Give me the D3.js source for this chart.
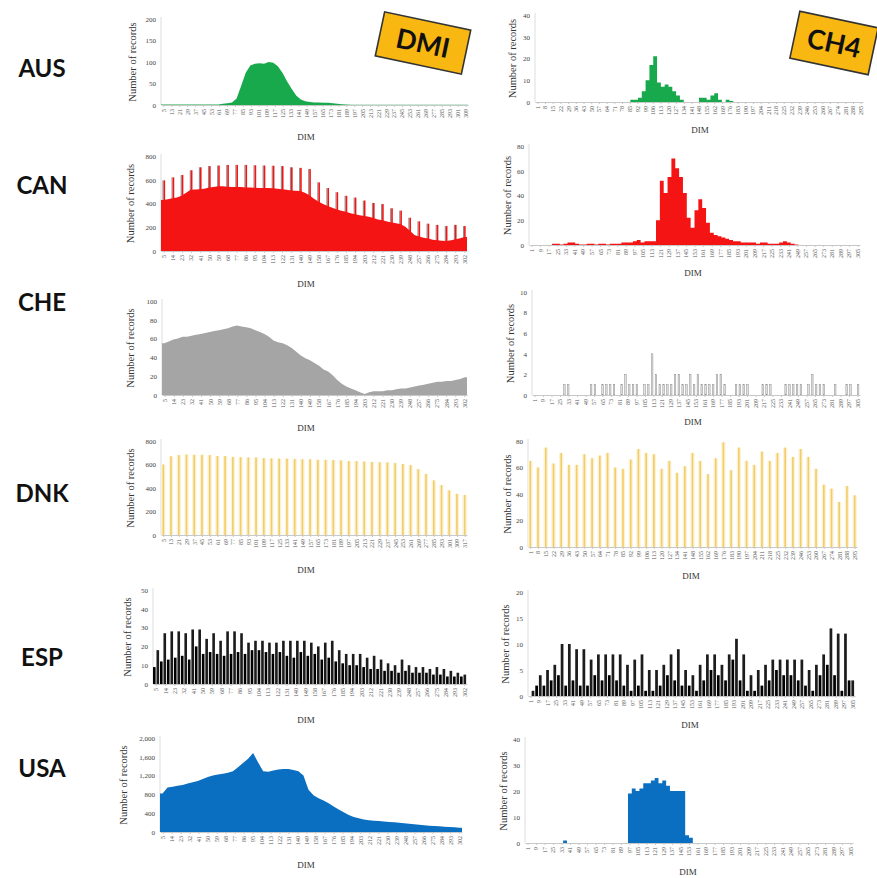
<!DOCTYPE html>
<html>
<head>
<meta charset="utf-8">
<script src="https://cdn.jsdelivr.net/npm/d3@7"></script>
<style>
  body { margin: 0; background: #fff; }
  svg { display: block; }
</style>
</head>
<body>
<script>
// Row and trait labels
const countries = ["AUS", "CAN", "CHE", "DNK", "ESP", "USA"];
const traits = ["DMI", "CH4"];

// DIM tick labels
const dmiTicks8 = [5,13,21,29,37,45,53,61,69,77,85,93,101,109,117,125,133,141,149,157,165,173,181,189,197,205,213,221,229,237,245,253,261,269,277,285,293,301,309];
const dmiTicks9 = [5,14,23,32,41,50,59,68,77,86,95,104,113,122,131,140,149,158,167,176,185,194,203,212,221,230,239,248,257,266,275,284,293,302];
const dnkTicks = [5,13,21,29,37,45,53,61,69,77,85,93,101,109,117,125,133,141,149,157,165,173,181,189,197,205,213,221,229,237,245,253,261,269,277,285,293,301,309,317];
const ch4Ticks7 = [1,8,15,22,29,36,43,50,57,64,71,78,85,92,99,106,113,120,127,134,141,148,155,162,169,176,183,190,197,204,211,218,225,232,239,246,253,260,267,274,281,288,295];
const ch4Ticks8 = [1,9,17,25,33,41,49,57,65,73,81,89,97,105,113,121,129,137,145,153,161,169,177,185,193,201,209,217,225,233,241,249,257,265,273,281,289,297,305];

// y tick values
const ausDmiY = [0, 50, 100, 150, 200];
const canDmiY = [0, 200, 400, 600, 800];
const cheDmiY = [0, 20, 40, 60, 80, 100];
const dnkDmiY = [0, 200, 400, 600, 800];
const espDmiY = [0, 10, 20, 30, 40, 50];
const usaDmiY = [0, 400, 800, 1200, 1600, 2000];
const ausCh4Y = [0, 10, 20, 30, 40];
const canCh4Y = [0, 20, 40, 60, 80];
const cheCh4Y = [0, 2, 4, 6, 8, 10];
const dnkCh4Y = [0, 20, 40, 60, 80];
const espCh4Y = [0, 5, 10, 15, 20];
const usaCh4Y = [0, 10, 20, 30, 40];

// Number of records
const ausDmi = [1,1,1,1,1,1,1,1,1,1,1,1,1,
  3,4,6,15,45,75,92,96,97,96,100,98,90,75,55,38,22,13,9,7,6,6,5,5,4,3,2,1,
  0.5,0.5,0.5,0.5,0.5,0.5,0.5,0.5,0.5,0.5,0.5,0.5,0.5,0.5,0.5,0.5,0.5,0.5,0.5,0.5,0.5,0.5,0.5,0.5,0.5,0.5];
const ausCh4 = [0,0,0,0,0,0,0,0,0,0,0,0,0,0,0,0,0,0,0,0,0,0,0,0,0,
  1,1,2,5,10,17,21,9,7,8,7,5,3,1,0,0,0,0,2,2,1,3,4,1,0,1,0.5,
  0,0,0,0,0,0,0,0,0,0,0,0,0,0,0,0,0,0,0,0,0,0,0,0,0,0,0,0,0,0,0,0,0,0];
const canDmiBase = [430,435,445,450,465,490,515,518,520,525,
  535,540,545,545,542,540,540,538,535,535,
  533,530,530,530,528,525,520,515,510,508,
  505,490,470,440,415,395,380,365,350,340,
  330,318,310,302,295,288,278,265,258,248,
  240,233,225,205,170,135,122,112,105,95,
  90,87,85,90,100,108,118];
const canDmiPeak = [595,620,640,680,705,715,720,725,725,725,
  722,720,718,715,705,700,690,578,530,495,
  465,450,425,405,395,360,340,280,250,230,
  220,210,220,210];
const canCh4 = [0,0,0,0,0,0,1,1,0.5,1, 2,2,1,0.5,0.5,1,1,0.5,1,1,
  0.5,1,1,1,2,2,2,3,4,2, 3,3,3,20,52,42,55,70,62,55,
  42,22,14,28,37,30,18,10,8,7, 6,5,4,3,3,2,2,2,2,1,
  2,2,1,1,1,2,3,2,1,0.5, 0,0,0,0,0,0,0,0,0,0, 0,0,0,0,0,0];
const cheDmi = [55,57,59,60,62,62,63,64,65,66,
  67,68,69,70,71,73,74,73,72,71,
  69,67,65,62,58,56,55,53,50,46,
  42,39,37,34,31,27,25,21,16,12,
  9,7,5,3,1,3,4,4,4,5,
  5,6,7,7,8,9,10,11,12,13,
  14,14,15,15,16,17,19];
const cheCh4 = [0,0,0,0,0,0,0,0,1,1, 0,0,0,0,0,1,1,0,1,1,
  1,1,0,1,2,1,1,1,0,1, 1,4,2,1,1,1,1,2,2,1,
  1,2,1,2,1,1,1,1,2,2, 1,0,0,1,1,1,1,0,0,0,
  1,1,1,0,0,0,1,1,1,1, 1,0,1,2,1,1,1,0,0,1,
  0,0,1,1,0,1];
const dnkDmi = [600,670,680,685,683,683,680,672,672,665,
  662,660,660,655,652,650,650,648,645,645,
  640,640,638,635,630,628,625,622,620,618,
  612,605,595,560,520,465,425,380,350,340];
const dnkCh4 = [65,60,75,63,71,62,62,70,67,69,
  71,60,59,66,74,71,70,59,65,56,
  61,71,65,55,67,79,58,75,65,62,
  72,65,71,75,68,74,68,59,47,44,
  34,46,39];
const espDmi = [9,18,12,27,13,28,14,28,15,27, 13,29,20,29,16,24,17,27,16,23,
  15,28,16,28,17,27,16,22,18,23, 18,23,17,22,16,22,17,23,15,23,
  14,23,17,23,15,22,16,20,13,22, 14,23,12,18,11,16,10,16,10,16,
  9,14,8,15,8,13,7,11,7,10, 6,13,7,10,6,9,6,9,6,8,
  5,9,5,8,4,7,4,6,4,5];
const espCh4 = [0,1,2,4,2,5,3,6,4,10, 2,10,3,9,2,9,2,7,4,8,
  3,8,4,8,3,8,2,6,1,7, 2,8,1,5,1,5,2,6,4,8,
  3,9,2,5,2,4,1,6,3,8, 5,8,4,6,3,8,7,11,3,8,
  1,4,1,5,2,6,3,7,5,7, 4,7,4,7,3,7,2,5,1,6,
  4,8,6,13,4,12,1,12,3,3];
const usaDmi = [820,945,965,985,1000,1030,1060,1085,1130,1170,
  1200,1225,1240,1260,1290,1380,1470,1560,1680,1480,
  1290,1280,1310,1330,1340,1340,1320,1290,1200,900,
  780,720,670,610,540,480,420,360,320,290,
  265,250,240,232,225,215,205,195,185,175,
  165,155,145,135,128,120,113,107,100,93];
const usaCh4 = [0,0,0,0,0,0,0,0,0,0, 1,
  0,0,0,0,0,0,0,0,0,0,0,0,0,0,0,0,
  19,21,20,21,23,23,24,25,23,24,22,20,20,20,20,3,2,
  0,0,0,0,0,0,0,0,0,0,0,0,0,0,0,0,0,0,0,0,0,0,0,0,0,0,0,0,0,0,0,0,0,0,0,0,0,0,0,0,0,0];

const W = 877, H = 878;
const serif = "'Liberation Serif', 'DejaVu Serif', serif";
const svg = d3.select("body").append("svg").attr("width", W).attr("height", H);

const panels = [
  {values: ausDmi, ticks: dmiTicks8, yTicks: ausDmiY, kind: "area", color: "#17a94b",
   x0: 161, x1: 468, top: 19, base: 105, dimX: 306, dimY: 137, titleX: 132},
  {values: ausCh4, ticks: ch4Ticks7, yTicks: ausCh4Y, kind: "step", color: "#17a94b",
   x0: 535, x1: 863, top: 15, base: 102, dimX: 700, dimY: 130, titleX: 512},
  {values: canDmiBase, peaks: canDmiPeak, ticks: dmiTicks9, yTicks: canDmiY, kind: "area", color: "#f41414",
   x0: 161, x1: 467, top: 156, base: 251, dimX: 306, dimY: 284, titleX: 130},
  {values: canCh4, ticks: ch4Ticks8, yTicks: canCh4Y, kind: "step", color: "#f41414",
   x0: 529, x1: 860, top: 146, base: 245, dimX: 693, dimY: 273, titleX: 507},
  {values: cheDmi, ticks: dmiTicks9, yTicks: cheDmiY, kind: "area", color: "#a5a5a5",
   x0: 162, x1: 467, top: 301, base: 395, dimX: 306, dimY: 428, titleX: 130},
  {values: cheCh4, ticks: ch4Ticks8, yTicks: cheCh4Y, kind: "thin", color: "#8c8c8c",
   x0: 532, x1: 860, top: 292, base: 395, dimX: 693, dimY: 422, titleX: 510},
  {values: dnkDmi, ticks: dnkTicks, yTicks: dnkDmiY, kind: "ticks", color: "#f1cd66",
   x0: 161, x1: 467, top: 441, base: 535, dimX: 306, dimY: 570, titleX: 130},
  {values: dnkCh4, ticks: ch4Ticks7, yTicks: dnkCh4Y, kind: "ticks", color: "#f1cd66",
   x0: 528, x1: 857, top: 441, base: 547, dimX: 691, dimY: 576, titleX: 507},
  {values: espDmi, ticks: dmiTicks9, yTicks: espDmiY, kind: "bars", color: "#000",
   x0: 153, x1: 467, top: 590, base: 684, dimX: 306, dimY: 720, titleX: 127},
  {values: espCh4, ticks: ch4Ticks8, yTicks: espCh4Y, kind: "bars", color: "#000",
   x0: 528, x1: 855, top: 592, base: 696, dimX: 690, dimY: 725, titleX: 505},
  {values: usaDmi, ticks: dmiTicks9, yTicks: usaDmiY, kind: "area", color: "#0b6fc1", fmt: d3.format(","),
   x0: 160, x1: 462, top: 738, base: 832, dimX: 306, dimY: 865, titleX: 123},
  {values: usaCh4, ticks: ch4Ticks8, yTicks: usaCh4Y, kind: "step", color: "#0b6fc1",
   x0: 525, x1: 853, top: 739, base: 843, dimX: 688, dimY: 872, titleX: 503}
];

function drawPanel(p) {
  const g = svg.append("g");
  const yMax = p.yTicks[p.yTicks.length - 1];
  const y = d3.scaleLinear().domain([0, yMax]).range([p.base, p.top]);
  const xb = d3.scaleBand().domain(d3.range(p.values.length)).range([p.x0, p.x1]);
  const xt = d3.scalePoint().domain(p.ticks).range([p.x0, p.x1]).padding(0.3);
  const bw = xb.bandwidth();

  // y axis line
  g.append("line")
    .attr("x1", p.x0).attr("x2", p.x0)
    .attr("y1", p.top - 2).attr("y2", p.base)
    .attr("stroke", "#d4d4d4").attr("stroke-width", 0.8);

  // marks
  if (p.peaks) {
    p.peaks.forEach((v, i) => {
      const xp = xt(p.ticks[i]);
      g.append("rect").attr("x", xp - 1.3).attr("width", 1.1)
        .attr("y", y(v)).attr("height", p.base - y(v)).attr("fill", "#8f8f8f");
      g.append("rect").attr("x", xp - 0.2).attr("width", 1.6)
        .attr("y", y(v)).attr("height", p.base - y(v)).attr("fill", p.color);
    });
  }

  if (p.kind === "area") {
    const pts = p.values.map((v, i) => [xb(i) + bw / 2, v]);
    pts.unshift([p.x0, p.values[0]]);
    pts.push([p.x1, p.values[p.values.length - 1]]);
    g.append("path").datum(pts)
      .attr("fill", p.color)
      .attr("d", d3.area().x(d => d[0]).y0(p.base).y1(d => y(d[1])));
  } else if (p.kind === "step") {
    const pts = p.values.map((v, i) => [xb(i), v]);
    pts.push([p.x1, p.values[p.values.length - 1]]);
    g.append("path").datum(pts)
      .attr("fill", p.color)
      .attr("d", d3.area().curve(d3.curveStepAfter).x(d => d[0]).y0(p.base).y1(d => y(d[1])));
  } else if (p.kind === "ticks") {
    g.selectAll("rect.halo").data(p.values).join("rect")
      .attr("x", (d, i) => xt(p.ticks[i]) - 2.2).attr("width", 4.4)
      .attr("y", d => y(d)).attr("height", d => p.base - y(d))
      .attr("fill", "#fcf2d6");
    g.selectAll("rect.bar").data(p.values).join("rect")
      .attr("x", (d, i) => xt(p.ticks[i]) - 0.8).attr("width", 1.6)
      .attr("y", d => y(d)).attr("height", d => p.base - y(d))
      .attr("fill", p.color);
  } else if (p.kind === "bars") {
    g.selectAll("rect").data(p.values).join("rect")
      .attr("x", (d, i) => xb(i)).attr("width", bw * 0.75)
      .attr("y", d => y(d)).attr("height", d => p.base - y(d))
      .attr("fill", (d, i) => i % 2 ? "#1c1c1c" : "#000");
  } else if (p.kind === "thin") {
    g.selectAll("rect").data(p.values.map((v, i) => [i, v]).filter(d => d[1] > 0)).join("rect")
      .attr("x", d => xb(d[0]) + bw * 0.3).attr("width", bw * 0.4)
      .attr("y", d => y(d[1])).attr("height", d => p.base - y(d[1]))
      .attr("fill", "#e2e2e2").attr("stroke", p.color).attr("stroke-width", 0.5);
  }

  // x axis
  g.append("g").attr("transform", `translate(0,${p.base})`)
    .call(d3.axisBottom(xt).tickSize(2).tickSizeOuter(0))
    .call(a => a.select(".domain").attr("stroke", "#c8c8c8"))
    .call(a => a.selectAll(".tick line").attr("stroke", "#c8c8c8"))
    .call(a => a.selectAll(".tick text")
      .attr("transform", "rotate(-90)")
      .attr("x", -4).attr("y", 0).attr("dy", "0.32em")
      .style("text-anchor", "end")
      .attr("fill", "#555")
      .attr("font-family", serif).attr("font-size", 6));

  // y axis labels
  g.append("g").attr("transform", `translate(${p.x0},0)`)
    .call(d3.axisLeft(y).tickValues(p.yTicks).tickSize(0).tickPadding(5).tickFormat(p.fmt || d3.format("d")))
    .call(a => a.select(".domain").remove())
    .call(a => a.selectAll(".tick text")
      .attr("fill", "#444").attr("font-family", serif).attr("font-size", 7));

  // titles
  g.append("text")
    .attr("transform", `translate(${p.titleX},${(p.top + p.base) / 2}) rotate(-90)`)
    .attr("dy", "0.35em").attr("text-anchor", "middle")
    .attr("font-family", serif).attr("font-size", 10.5).attr("fill", "#333")
    .text("Number of records");
  g.append("text")
    .attr("x", p.dimX).attr("y", p.dimY)
    .attr("text-anchor", "middle").attr("dy", "0.35em")
    .attr("font-family", serif).attr("font-size", 9).attr("fill", "#333")
    .text("DIM");
}

panels.forEach(drawPanel);

// row labels
const rowY = [68, 185, 302, 493, 657, 768];
svg.selectAll("text.country").data(countries).join("text")
  .attr("class", "country")
  .attr("x", 42).attr("y", (d, i) => rowY[i])
  .attr("dy", "0.36em").attr("text-anchor", "middle")
  .attr("font-family", "Lato, 'Open Sans', sans-serif")
  .attr("font-weight", "bold").attr("font-size", 24).attr("fill", "#111")
  .text(d => d);

// trait badges
const badges = [{cx: 423, cy: 43, w: 88, h: 45}, {cx: 834, cy: 43, w: 80, h: 48}];
badges.forEach((b, i) => {
  const g = svg.append("g").attr("transform", `translate(${b.cx},${b.cy}) rotate(12)`);
  g.append("rect").attr("x", -b.w / 2).attr("y", -b.h / 2).attr("width", b.w).attr("height", b.h)
    .attr("fill", "#f9b712").attr("stroke", "#333").attr("stroke-width", 1.6);
  g.append("text").attr("text-anchor", "middle").attr("dy", "0.36em")
    .attr("font-family", "Lato, 'Open Sans', sans-serif").attr("font-weight", "bold")
    .attr("font-size", 27).attr("fill", "#111")
    .text(traits[i]);
});
</script>
</body>
</html>
